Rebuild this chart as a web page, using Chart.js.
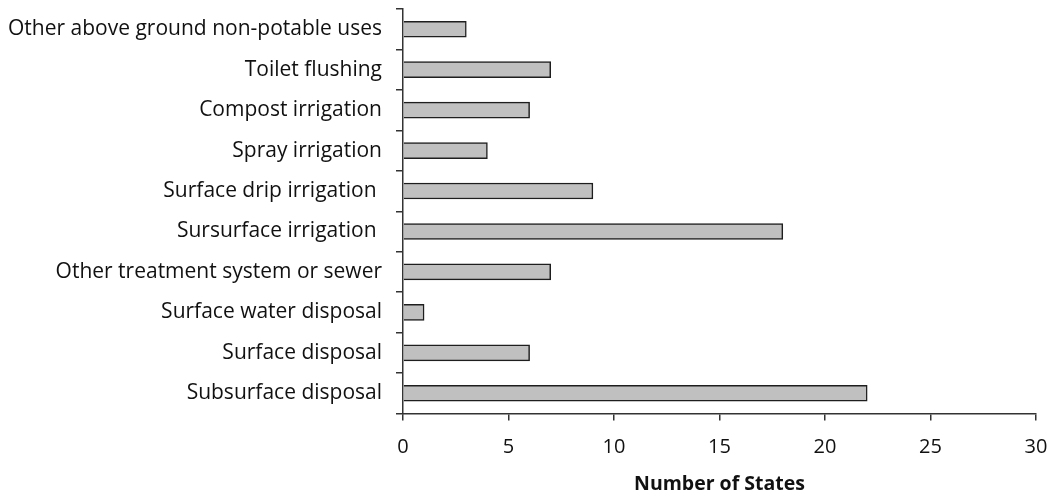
<!DOCTYPE html>
<html>
<head>
<meta charset="utf-8">
<script src="https://cdn.jsdelivr.net/npm/chart.js@4"></script>
<style>
  html, body { margin: 0; padding: 0; background: #fff; }
  #wrap { width: 1051px; height: 496px; }
</style>
</head>
<body>
<div id="wrap"><canvas id="my_chart" width="1051" height="496"></canvas></div>
<script>
// Categories, top to bottom
const categories = [
  'Other above ground non-potable uses',
  'Toilet flushing',
  'Compost irrigation',
  'Spray irrigation',
  'Surface drip irrigation ',
  'Sursurface irrigation ',
  'Other treatment system or sewer',
  'Surface water disposal',
  'Surface disposal',
  'Subsurface disposal'
];

// Number of states per use
const stateCounts = [3, 7, 6, 4, 9, 18, 7, 1, 6, 22];

const xTicks = [0, 5, 10, 15, 20, 25, 30];

const ctx = document.getElementById('my_chart').getContext('2d');
const fontFamily = "'Open Sans', 'Liberation Sans', sans-serif";

const config = {
  type: 'bar',
  data: {
    labels: categories,
    datasets: [{
      label: 'Number of States',
      data: stateCounts,
      backgroundColor: '#c0c0c0',
      borderColor: '#1e1e1e',
      borderWidth: 1.5,
      barThickness: 16
    }]
  },
  options: {
    indexAxis: 'y',
    responsive: false,
    animation: false,
    layout: { padding: { top: 9, right: 0, bottom: 2, left: 0 } },
    plugins: {
      legend: { display: false },
      tooltip: { enabled: false }
    },
    scales: {
      x: {
        min: 0,
        max: 30,
        afterBuildTicks: axis => { axis.ticks = xTicks.map(v => ({ value: v })); },
        afterFit: axis => {
          axis.paddingLeft = 0;
          axis.paddingRight = 15;
        },
        grid: { drawOnChartArea: false, tickLength: 7, color: '#333', lineWidth: 1.5 },
        border: { color: '#333', width: 1.5 },
        ticks: { color: '#111', padding: 15, font: { family: fontFamily, size: 20 } },
        title: {
          display: true,
          text: 'Number of States',
          color: '#111',
          padding: { top: 0, bottom: 0 },
          font: { family: fontFamily, size: 19.5, weight: 'bold', lineHeight: 1 }
        }
      },
      y: {
        afterFit: axis => {
          axis.width = 403;
          axis.paddingTop = 0;
          axis.paddingBottom = 0;
        },
        grid: { drawOnChartArea: false, offset: true, tickLength: 7, color: '#333', lineWidth: 1.5 },
        border: { color: '#333', width: 1.5 },
        ticks: { color: '#111', padding: 14, font: { family: fontFamily, size: 21 } }
      }
    }
  }
};

const myChart = new Chart(ctx, config);
</script>
</body>
</html>
